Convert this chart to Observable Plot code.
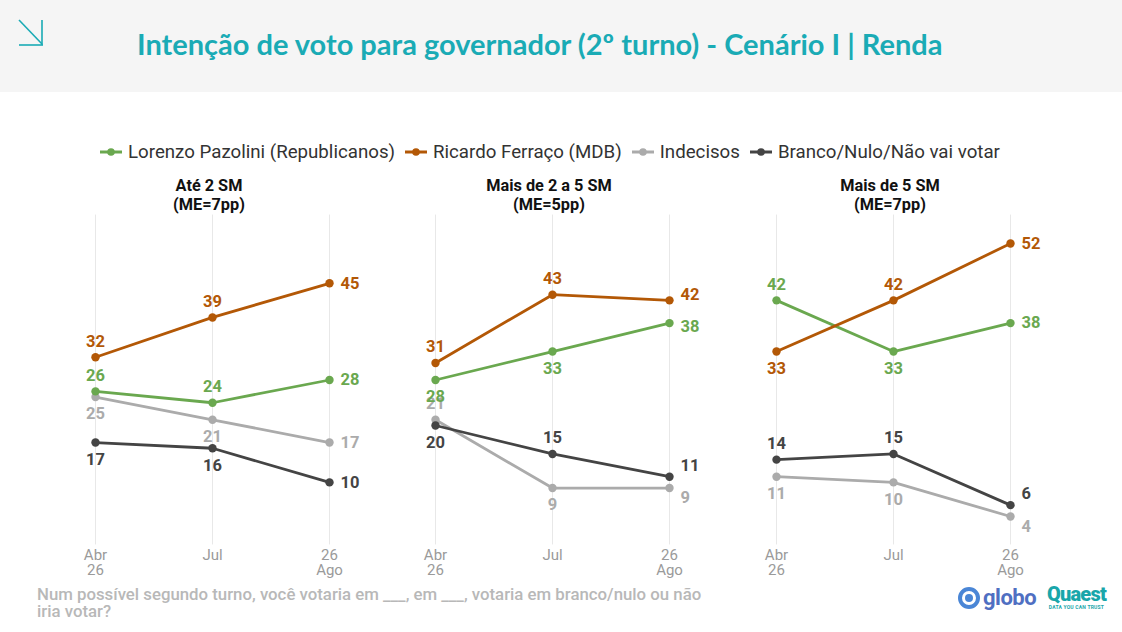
<!DOCTYPE html>
<html><head><meta charset="utf-8">
<script src="https://cdn.jsdelivr.net/npm/d3@7"></script>
<script src="https://cdn.jsdelivr.net/npm/@observablehq/plot@0.6"></script>
<style>
body{margin:0;width:1122px;height:632px;background:#fff;position:relative;overflow:hidden;font-family:Roboto,sans-serif;}
#header{position:absolute;left:0;top:0;width:1122px;height:92px;background:#f5f5f5;}
#title{position:absolute;left:137px;top:26px;font:700 29px Lato,sans-serif;color:#1aabb5;white-space:nowrap;line-height:36px;}
#arrow{position:absolute;left:16px;top:17px;}
#legend{position:absolute;left:100px;top:141px;display:flex;align-items:center;font:400 18.7px Roboto,sans-serif;color:#333;white-space:nowrap;line-height:22px;}
#legend .item{display:flex;align-items:center;margin-right:10px;}
#legend svg{margin-right:6px;}
.ptitle{position:absolute;width:240px;text-align:center;top:176px;font:700 16.3px Roboto,sans-serif;line-height:19px;color:#111;}
.panel{position:absolute;top:200px;}
#footer{position:absolute;left:37px;top:586px;width:672px;font:500 16.8px Roboto,sans-serif;color:#b8b8b8;line-height:17px;}
#globo{position:absolute;left:958px;top:586px;display:flex;align-items:center;}
#globo .ring{width:14px;height:14px;border:4px solid #4a86d6;border-radius:50%;display:flex;align-items:center;justify-content:center;margin-right:3px;}
#globo .ring div{width:8px;height:8px;border-radius:50%;background:#4a86d6;}
#globo span{font:700 22px Roboto,sans-serif;color:#4f6fc2;letter-spacing:-0.5px;line-height:24px;}
#quaest{position:absolute;left:1047px;top:584px;text-align:center;color:#19a6aa;}
#quaest .q{font:900 20px Roboto,sans-serif;letter-spacing:-0.8px;line-height:20px;}
#quaest .t{font:700 5px Roboto,sans-serif;line-height:6px;letter-spacing:0.2px;}
</style></head>
<body>
<div id="header">
  <svg id="arrow" width="32" height="32"><g stroke="#1aabb5" stroke-width="1.6" fill="none"><line x1="3" y1="3" x2="26" y2="27"/><line x1="26" y1="3" x2="26" y2="28"/><line x1="3" y1="28" x2="27" y2="28"/></g></svg>
  <div id="title">Intenção de voto para governador (2º turno) - Cenário I | Renda</div>
</div>
<div id="legend"></div>
<div id="panels"></div>
<div id="footer">Num possível segundo turno, você votaria em ___, em ___, votaria em branco/nulo ou não iria votar?</div>
<div id="globo"><div class="ring"><div></div></div><span>globo</span></div>
<div id="quaest"><div class="q">Quaest</div><div class="t">DATA YOU CAN TRUST</div></div>
<script>
// ---- data ----
const periods = ["Abr 26", "Jul", "26 Ago"];
const tickLabels = ["Abr\n26", "Jul", "26\nAgo"];
const groups = ["Até 2 SM", "Mais de 2 a 5 SM", "Mais de 5 SM"];
const errorMargins = ["(ME=7pp)", "(ME=5pp)", "(ME=7pp)"];
const series = ["Lorenzo Pazolini (Republicanos)", "Ricardo Ferraço (MDB)", "Indecisos", "Branco/Nulo/Não vai votar"];
const pazolini = [[26, 24, 28], [28, 33, 38], [42, 33, 38]];
const ferraco = [[32, 39, 45], [31, 43, 42], [33, 42, 52]];
const indecisos = [[25, 21, 17], [21, 9, 9], [11, 10, 4]];
const branco = [[17, 16, 10], [20, 15, 11], [14, 15, 6]];

// ---- style ----
const colors = ["#6aa84f", "#b35806", "#ababab", "#444444"];
// label placement per series/group/period: a=above, b=below, r=right (with nudges)
const placePazolini = [["a","a","r"], ["b","b","rd"], ["a","b","r"]];
const placeFerraco = [["a","a","r"], ["a","a","ru"], ["b","a","r"]];
const placeIndecisos = [["b","b","r"], ["a","b","rd2"], ["b","b","rd2"]];
const placeBranco = [["b","b","r"], ["b","a","ru2"], ["a","a","ru2"]];
const placements = {
  a: {dx: 0, dy: -16, textAnchor: "middle"},
  b: {dx: 0, dy: 17, textAnchor: "middle"},
  r: {dx: 11, dy: 0, textAnchor: "start"},
  ru: {dx: 11, dy: -6, textAnchor: "start"},
  rd: {dx: 11, dy: 4, textAnchor: "start"},
  ru2: {dx: 11, dy: -11, textAnchor: "start"},
  rd2: {dx: 11, dy: 10, textAnchor: "start"}
};
const panelLeft = [35, 375, 716];

// ---- legend ----
const legend = document.getElementById("legend");
series.forEach((s, i) => {
  const it = document.createElement("div");
  it.className = "item";
  it.innerHTML = `<svg width="22" height="12"><line x1="0" y1="6" x2="22" y2="6" stroke="${colors[i]}" stroke-width="3"/><circle cx="11" cy="6" r="3.8" fill="${colors[i]}"/></svg><span>${s}</span>`;
  legend.appendChild(it);
});

// ---- build table ----
const valueSets = [indecisos, branco, pazolini, ferraco];
const placeSets = [placeIndecisos, placeBranco, placePazolini, placeFerraco];
const seriesIdx = [2, 3, 0, 1];
const panels = document.getElementById("panels");

groups.forEach((g, gi) => {
  const rows = [];
  valueSets.forEach((vs, k) => {
    vs[gi].forEach((v, pi) => {
      rows.push({series: series[seriesIdx[k]], period: periods[pi], value: v, pos: placeSets[k][gi][pi]});
    });
  });
  const labelMarks = Object.entries(placements).map(([key, p]) =>
    Plot.text(rows.filter(d => d.pos === key), {
      x: "period", y: "value", text: d => String(d.value), fill: "series",
      dx: p.dx, dy: p.dy, textAnchor: p.textAnchor, lineAnchor: "middle",
      fontSize: 16.5, fontWeight: 700
    })
  );
  const chart = Plot.plot({
    width: 340, height: 390,
    marginLeft: 60, marginRight: 46, marginTop: 14.56, marginBottom: 45.56,
    style: {fontFamily: "Roboto, sans-serif", color: "#9a9a9a", background: "transparent", overflow: "visible"},
    x: {type: "point", domain: periods, padding: 0, axis: null},
    y: {domain: [-1, 57], axis: null},
    color: {domain: series, range: colors},
    marks: [
      Plot.ruleX(periods, {x: d => d, stroke: "#e8e8e8", strokeWidth: 1}),
      Plot.axisX({tickSize: 0, tickPadding: 4, label: null, fontSize: 15, lineHeight: 1.0,
                  fill: "#9a9a9a", tickFormat: d => tickLabels[periods.indexOf(d)]}),
      Plot.line(rows, {x: "period", y: "value", z: "series", stroke: "series", strokeWidth: 2.8}),
      Plot.dot(rows, {x: "period", y: "value", fill: "series", r: 4.2}),
      ...labelMarks
    ]
  });
  chart.classList.add("panel");
  chart.style.left = panelLeft[gi] + "px";
  chart.style.position = "absolute";
  chart.style.top = "200px";
  panels.appendChild(chart);

  const t = document.createElement("div");
  t.className = "ptitle";
  t.style.left = (panelLeft[gi] + 60 + 117 - 3 - 120) + "px";
  t.innerHTML = g + "<br>" + errorMargins[gi];
  document.body.appendChild(t);
});
</script>
</body></html>
